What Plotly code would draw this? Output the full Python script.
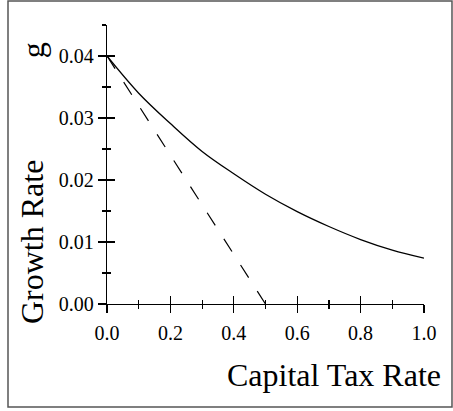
import plotly.graph_objects as go

# Data
tax_rate = [0.0, 0.1, 0.2, 0.3, 0.4, 0.5, 0.6, 0.7, 0.8, 0.9, 1.0]
growth_solid = [0.0400, 0.0340, 0.0291, 0.0246, 0.0210, 0.0177, 0.0149, 0.0125, 0.0104, 0.0087, 0.0074]
dashed_x = [0.0, 0.5]
dashed_y = [0.040, 0.000]

x_ticks = [0.0, 0.2, 0.4, 0.6, 0.8, 1.0]
x_ticklabels = ["0.0", "0.2", "0.4", "0.6", "0.8", "1.0"]
y_ticks = [0.00, 0.01, 0.02, 0.03, 0.04]
y_ticklabels = ["0.00", "0.01", "0.02", "0.03", "0.04"]

FONT = "Liberation Serif, Times New Roman, serif"

fig = go.Figure()
fig.add_trace(go.Scatter(x=tax_rate, y=growth_solid, mode="lines",
                         line=dict(color="black", width=1.3, shape="spline"),
                         xaxis="x", yaxis="y", showlegend=False, hoverinfo="skip"))
fig.add_trace(go.Scatter(x=dashed_x, y=dashed_y, mode="lines",
                         line=dict(color="black", width=1.2, dash="15px,16px"),
                         xaxis="x2", yaxis="y2", showlegend=False, hoverinfo="skip"))

common_x = dict(range=[0, 1.0], showgrid=False, zeroline=False,
                tickvals=x_ticks, ticktext=x_ticklabels, tickwidth=1.3, ticklen=8,
                tickcolor="black",
                minor=dict(dtick=0.1, tick0=0, ticklen=4, tickcolor="black", tickwidth=1.2, showgrid=False))
common_y = dict(range=[0, 0.045], showgrid=False, zeroline=False,
                tickvals=y_ticks, ticktext=y_ticklabels, tickwidth=1.3, ticklen=8,
                tickcolor="black",
                minor=dict(dtick=0.005, tick0=0, ticklen=4, tickcolor="black", tickwidth=1.2, showgrid=False))

fig.update_layout(
    width=453, height=411,
    margin=dict(l=107, r=29, t=25, b=107),
    paper_bgcolor="white", plot_bgcolor="white",
    font=dict(family=FONT, color="black", size=20),
    xaxis=dict(**common_x, ticks="outside", showline=True, linecolor="black", linewidth=1.3,
               tickfont=dict(family=FONT, size=20, color="black"), anchor="y",
               minor_ticks="outside", ticklabelstandoff=3),
    yaxis=dict(**common_y, ticks="outside", showline=True, linecolor="black", linewidth=1.3,
               tickfont=dict(family=FONT, size=20, color="black"), anchor="x",
               minor_ticks="outside"),
    xaxis2=dict(**common_x, ticks="inside", showline=False, showticklabels=False,
                overlaying="x", anchor="y2", side="bottom", minor_ticks="inside"),
    yaxis2=dict(**common_y, ticks="inside", showline=False, showticklabels=False,
                overlaying="y", anchor="x2", side="left", minor_ticks="inside"),
    annotations=[
        dict(text="Capital Tax Rate", xref="paper", yref="paper", x=1.06, y=-0.255,
             xanchor="right", yanchor="middle", showarrow=False,
             font=dict(family=FONT, size=32, color="black")),
        dict(text="Growth Rate", xref="paper", yref="paper", x=-0.2366, y=0.222,
             xanchor="center", yanchor="middle", textangle=-90, showarrow=False,
             font=dict(family=FONT, size=32, color="black")),
        dict(text="g", xref="paper", yref="paper", x=-0.233, y=0.91,
             xanchor="center", yanchor="middle", textangle=-90, showarrow=False,
             font=dict(family=FONT, size=32, color="black")),
    ],
    shapes=[
        dict(type="rect", xref="paper", yref="paper",
             x0=-0.3123, x1=1.0883, y0=-0.3692, y1=1.086,
             line=dict(color="#555555", width=1.5), fillcolor="rgba(0,0,0,0)", layer="below"),
    ],
)

fig.write_html("out.html",
               config={"displayModeBar": False, "staticPlot": True},
               post_script="document.body.style.margin='0';document.body.style.padding='0';")
